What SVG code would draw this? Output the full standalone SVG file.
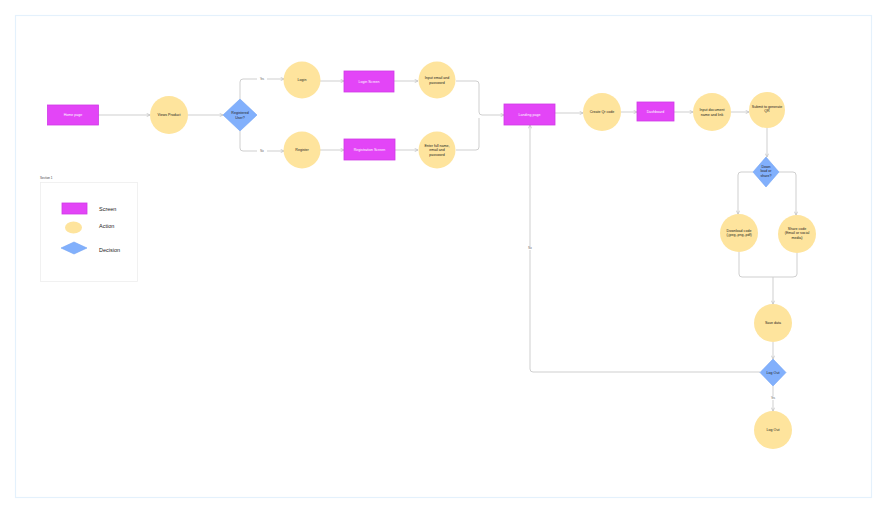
<svg xmlns="http://www.w3.org/2000/svg" width="888" height="515" viewBox="0 0 888 515">
<style>
.scr{fill:#e345f7;stroke:#cf3be6;stroke-width:0.8}
.act{fill:#fee49d}
.dec{fill:#82b0fc;stroke:#72a2f4;stroke-width:0.6}
.t{font-family:"Liberation Sans",Arial,sans-serif;font-size:3.6px;text-anchor:middle;fill:#222}
.tw{font-family:"Liberation Sans",Arial,sans-serif;font-size:3.6px;text-anchor:middle;fill:#fff}
.lg{font-family:"Liberation Sans",Arial,sans-serif;font-size:5.5px;fill:#222}
.c{fill:none;stroke:#cfcfcf;stroke-width:1}
.lab{font-family:"Liberation Sans",Arial,sans-serif;font-size:2.6px;text-anchor:middle;fill:#555}
</style>
<defs>
<marker id="ah" viewBox="0 0 6 6" refX="5.5" refY="3" markerWidth="4" markerHeight="4" orient="auto" markerUnits="userSpaceOnUse">
<path d="M0.5,0.5 L5.5,3 L0.5,5.5" fill="none" stroke="#bdbdbd" stroke-width="1"/>
</marker>
</defs>
<rect x="0" y="0" width="888" height="515" fill="#fff"/>
<rect x="15.5" y="15.5" width="856" height="482" fill="#fff" stroke="#e4f1fc" stroke-width="1.2"/>

<g id="connectors">
<path class="c" d="M98,115 H150" marker-end="url(#ah)"/>
<path class="c" d="M188,115 H223" marker-end="url(#ah)"/>
<path class="c" d="M240,99 V82 Q240,79 243,79 H284" marker-end="url(#ah)"/>
<path class="c" d="M240,131 V148 Q240,151 243,151 H284" marker-end="url(#ah)"/>
<path class="c" d="M320,81 H344" marker-end="url(#ah)"/>
<path class="c" d="M320,150 H344" marker-end="url(#ah)"/>
<path class="c" d="M394,81 H418" marker-end="url(#ah)"/>
<path class="c" d="M395,150 H418" marker-end="url(#ah)"/>
<path class="c" d="M456,81 H476 Q479,81 479,84 V112 Q479,115 482,115 H504" marker-end="url(#ah)"/>
<path class="c" d="M456,150 H476 Q479,150 479,147 V118"/>
<path class="c" d="M555,113 H583" marker-end="url(#ah)"/>
<path class="c" d="M621,112 H637" marker-end="url(#ah)"/>
<path class="c" d="M674,112 H693" marker-end="url(#ah)"/>
<path class="c" d="M731,112 H749" marker-end="url(#ah)"/>
<path class="c" d="M767,128 V157" marker-end="url(#ah)"/>
<path class="c" d="M753,172 H741 Q738,172 738,175 V214" marker-end="url(#ah)"/>
<path class="c" d="M779,172 H793 Q796,172 796,175 V215" marker-end="url(#ah)"/>
<path class="c" d="M739,252 V274 Q739,277 742,277 H793 Q797,277 797,274 V253"/>
<path class="c" d="M773,277 V304" marker-end="url(#ah)"/>
<path class="c" d="M773,342 V359" marker-end="url(#ah)"/>
<path class="c" d="M773,386 V411" marker-end="url(#ah)"/>
<path class="c" d="M760,372 H533 Q530,372 530,369 V125" marker-end="url(#ah)"/>
<rect x="257" y="77.5" width="10" height="3.5" fill="#fff"/>
<text class="lab" x="262" y="80.2">Yes</text>
<rect x="257" y="149.5" width="10" height="3.5" fill="#fff"/>
<text class="lab" x="262" y="152.2">No</text>
<rect x="526" y="246.5" width="8" height="3.5" fill="#fff"/>
<text class="lab" x="530" y="249.2">No</text>
<rect x="768" y="396.5" width="10" height="3.5" fill="#fff"/>
<text class="lab" x="773" y="399.2">Yes</text>
</g>

<g id="home-page"><rect class="scr" x="47.5" y="105" width="51" height="20"/><text class="tw" x="73" y="116.2">Home page</text></g>
<g id="views-product"><circle class="act" cx="169" cy="115" r="19"/><text class="t" x="169" y="116.2">Views Product</text></g>
<g id="registered-user"><polygon class="dec" points="240,99 257,115 240,131 223,115"/><text class="t" x="240" y="114">Registered</text><text class="t" x="240" y="118.5">User?</text></g>
<g id="login"><circle class="act" cx="302" cy="80" r="18.5"/><text class="t" x="302" y="81.2">Login</text></g>
<g id="register"><circle class="act" cx="302" cy="150" r="18.5"/><text class="t" x="302" y="151.2">Register</text></g>
<g id="login-screen"><rect class="scr" x="344" y="71" width="50" height="21"/><text class="tw" x="369" y="82.7">Login Screen</text></g>
<g id="registration-screen"><rect class="scr" x="344" y="139" width="51" height="21"/><text class="tw" x="369.5" y="150.7">Registration Screen</text></g>
<g id="input-email"><circle class="act" cx="437" cy="80" r="18.5"/><text class="t" x="437" y="79">Input email and</text><text class="t" x="437" y="83.5">password</text></g>
<g id="enter-full-name"><circle class="act" cx="437" cy="150" r="18.5"/><text class="t" x="437" y="146.5">Enter full name,</text><text class="t" x="437" y="151">email and</text><text class="t" x="437" y="155.5">password</text></g>
<g id="landing-page"><rect class="scr" x="504" y="104" width="51" height="21"/><text class="tw" x="529.5" y="115.7">Landing page</text></g>
<g id="create-qr"><circle class="act" cx="602" cy="112" r="19"/><text class="t" x="602" y="113.2">Create Qr code</text></g>
<g id="dashboard"><rect class="scr" x="637" y="102" width="37" height="19"/><text class="tw" x="655.5" y="112.7">Dashboard</text></g>
<g id="input-document"><circle class="act" cx="712" cy="112" r="19"/><text class="t" x="712" y="111">Input document</text><text class="t" x="712" y="115.5">name and link</text></g>
<g id="submit-qr"><circle class="act" cx="767" cy="110" r="18"/><text class="t" x="767" y="107.5">Submit to generate</text><text class="t" x="767" y="112">QR</text></g>
<g id="download-or-share"><polygon class="dec" points="766,157 779,172 766,187 753,172"/><text class="t" x="766" y="167.5">Down</text><text class="t" x="766" y="172">load or</text><text class="t" x="766" y="176.5">share?</text></g>
<g id="download-code"><circle class="act" cx="739" cy="233" r="19"/><text class="t" x="739" y="231.5">Download code</text><text class="t" x="739" y="236">(.jpeg,.png,.pdf)</text></g>
<g id="share-code"><circle class="act" cx="797" cy="234" r="19"/><text class="t" x="797" y="229.5">Share code</text><text class="t" x="797" y="234">(Email or social</text><text class="t" x="797" y="238.5">media)</text></g>
<g id="save-data"><circle class="act" cx="773" cy="323" r="19"/><text class="t" x="773" y="324.2">Save data</text></g>
<g id="log-out-decision"><polygon class="dec" points="773,359 786,372.5 773,386 760,372.5"/><text class="t" x="773" y="373.7">Log Out</text></g>
<g id="log-out"><circle class="act" cx="773" cy="430" r="19"/><text class="t" x="773" y="431.2">Log Out</text></g>

<g id="legend">
<text x="40" y="179" font-family="Liberation Sans, Arial, sans-serif" font-size="3px" fill="#444">Section 1</text>
<rect x="40.5" y="182.5" width="97" height="99" fill="#fff" stroke="#eeeeee" stroke-width="0.8"/>
<rect class="scr" x="62" y="203" width="25" height="11"/>
<text class="lg" x="99" y="211">Screen</text>
<ellipse class="act" cx="73.5" cy="227.5" rx="8.5" ry="6"/>
<text class="lg" x="99" y="228">Action</text>
<polygon class="dec" points="74,242 87,248 74,254 61,248"/>
<text class="lg" x="99" y="252">Decision</text>
</g>
</svg>
